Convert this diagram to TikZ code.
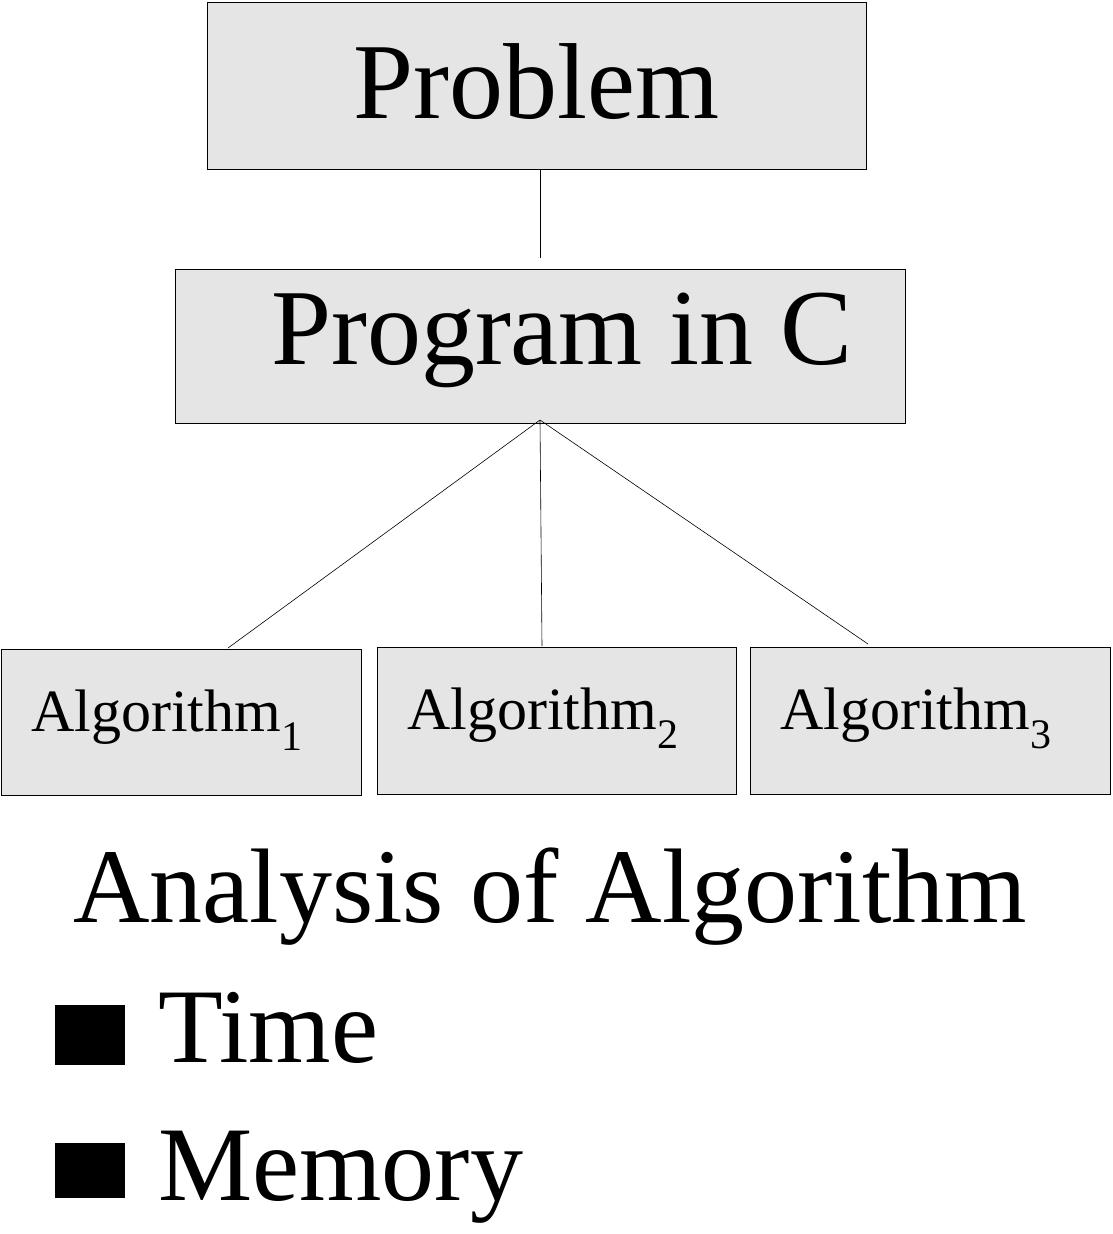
\documentclass[tikz,border=0pt]{standalone}
\usepackage{fontspec}
\setmainfont{Liberation Serif}
\begin{document}
\begin{tikzpicture}[x=1pt,y=-1pt,
  box/.style={draw,line width=0.8pt,fill=gray!20},
  ln/.style={line width=0.6pt}]
\useasboundingbox (0,0) rectangle (1113,1234);
\draw[box] (207,2) rectangle (866,169);
\node[anchor=base] (prob) at (536,118) {\fontsize{108}{120}\selectfont Problem};
\draw[box] (175,269) rectangle (905,423);
\node[anchor=base] (prog) at (562,364) {\fontsize{108}{120}\selectfont Program in C};
\coordinate (pt) at (540,169);
\coordinate (pb) at (540,258);
\draw[ln] (pt) -- (pb);
\coordinate (hub) at (540,420);
\draw[box] (1,649) rectangle (361,795);
\draw[box] (377,647) rectangle (736,794);
\draw[box] (750,647) rectangle (1110,794);
\coordinate (a1) at (228,648);
\coordinate (a2) at (542,646);
\coordinate (a3) at (868,644);
\draw[ln] (hub) -- (a1);
\draw[ln] (hub) -- (a2);
\draw[ln] (hub) -- (a3);
\node[anchor=base west,inner sep=0] (t1) at (31,731) {\fontsize{60}{70}\selectfont Algorithm\textsubscript{1}};
\node[anchor=base west,inner sep=0] (t2) at (407,729) {\fontsize{60}{70}\selectfont Algorithm\textsubscript{2}};
\node[anchor=base west,inner sep=0] (t3) at (780,729) {\fontsize{60}{70}\selectfont Algorithm\textsubscript{3}};
\node[anchor=base west,inner sep=0] (an) at (73,922) {\fontsize{106}{120}\selectfont Analysis of Algorithm};
\fill (55,1005) rectangle (125,1065);
\node[anchor=base west,inner sep=0] (ti) at (158,1062) {\fontsize{106}{120}\selectfont Time};
\fill (55,1143) rectangle (125,1198);
\node[anchor=base west,inner sep=0] (me) at (158,1200) {\fontsize{106}{120}\selectfont Memory};
\end{tikzpicture}
\end{document}
